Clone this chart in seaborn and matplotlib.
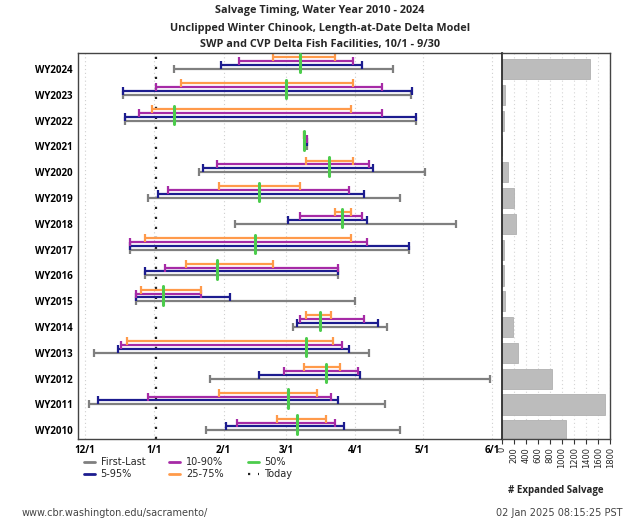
import matplotlib
matplotlib.use("Agg")
import matplotlib.pyplot as plt
from matplotlib.lines import Line2D
import seaborn as sns
import pandas as pd

# ---- data (dates as days after Dec 1 of the water year) ----
years = ["WY2024", "WY2023", "WY2022", "WY2021", "WY2020", "WY2019", "WY2018", "WY2017",
         "WY2016", "WY2015", "WY2014", "WY2013", "WY2012", "WY2011", "WY2010"]
first = [40, 17, 18, 98.6, 51, 28, 67, 20, 27, 23, 93, 4, 56, 2, 54]
last = [138, 146, 148, 99.1, 152, 141, 166, 145, 113, 121, 135, 127, 181, 134, 141]
p05 = [61, 17, 18, 98.6, 53, 32.5, 91, 20, 27, 23, 95, 15, 78, 6, 63]
p95 = [124, 146.4, 148, 99.1, 129, 125, 126, 145, 113, 65, 131, 118, 123, 113, 116]
p10 = [69, 32, 24, 98.6, 59, 37, 96, 20, 36, 23, 96, 16, 89, 28, 68]
p90 = [120, 133, 133, 99.1, 127, 118, 124, 126, 113, 52, 125, 115, 122, 110, 112]
p25 = [84, 43, 30, 98.1, 99, 60, 112, 27, 45, 25, 99, 19, 98, 60, 86]
p75 = [112, 120, 119, 98.1, 120, 96, 119, 119, 84, 52, 110, 111, 114, 104, 108]
p50 = [96, 90, 40, 98.1, 109, 78, 115, 76, 59, 35, 105, 99, 108, 91, 95]
salvage = [1470, 60, 38, 0, 104, 204, 232, 38, 33, 50, 187, 265, 839, 1707, 1061]
today = 32  # Jan 2
month_ticks = [0, 31, 62, 90, 121, 151, 182]
month_labels = ["12/1", "1/1", "2/1", "3/1", "4/1", "5/1", "6/1"]
salvage_ticks = [0, 200, 400, 600, 800, 1000, 1200, 1400, 1600, 1800]

sns.set_theme(style="white")
plt.rcParams["font.family"] = ["DejaVu Sans"]

C_GRAY = "#7f7f7f"
C_BLUE = "#1c1c8f"
C_PURP = "#a62aa6"
C_ORNG = "#ff9a4a"
C_GREEN = "#4ccc4c"

fig = plt.figure(figsize=(6.4, 5.3), dpi=100)
ax = fig.add_axes([78 / 640, 1 - 439.3 / 530, (501.7 - 78) / 640, (439.3 - 53) / 530])
axb = fig.add_axes([501.7 / 640, 1 - 439.3 / 530, (610.3 - 501.7) / 640, (439.3 - 53) / 530])

ylim = (len(years) - 1 + 0.35, -0.62)

# grid
for t in month_ticks:
    ax.axvline(t, color="#cfcfcf", lw=0.8, ls=(0, (1, 2.5)), zorder=0)
ax.axvline(today, color="#222222", lw=1.6, ls=(0, (1, 3.5)), zorder=1)

ranges = [(first, last, C_GRAY, 0.0), (p05, p95, C_BLUE, -0.155),
          (p10, p90, C_PURP, -0.30), (p25, p75, C_ORNG, -0.45)]
for i, yr in enumerate(years):
    for lo, hi, col, off in ranges:
        y = i + off
        ax.plot([lo[i], hi[i]], [y, y], color=col, lw=1.6, solid_capstyle="butt", zorder=2)
        ax.plot([lo[i], hi[i]], [y, y], ls="none", marker="|", markersize=5.5,
                mew=1.6, color=col, zorder=2)
    ax.plot([p50[i], p50[i]], [i + 0.13, i - 0.58], color=C_GREEN, lw=2.2, zorder=3)

ax.set_xlim(-3.1, 186.4)
ax.set_ylim(*ylim)
ax.set_xticks(month_ticks)
ax.set_xticklabels(month_labels, fontfamily="Open Sans", fontweight="bold", fontsize=7)
ax.set_yticks(range(len(years)))
ax.set_yticklabels(years, fontfamily="Open Sans", fontweight="bold", fontsize=7)
ax.tick_params(axis="both", direction="in", length=3.5, width=0.8, color="#333333",
               pad=4, labelcolor="black")
ax.tick_params(axis="x", pad=4)
for s in ax.spines.values():
    s.set_color("#444444")
    s.set_linewidth(1.0)

# salvage bars
df = pd.DataFrame({"year": years, "salvage": salvage})
sns.barplot(data=df, x="salvage", y="year", orient="h", color="#bcbcbc",
            saturation=1, width=0.78, edgecolor="#b0b0b0", linewidth=0.6, ax=axb, zorder=2)
for t in salvage_ticks:
    axb.axvline(t, color="#d5d5d5", lw=0.8, ls=(0, (1, 2.5)), zorder=0)
axb.set_xlim(0, 1800)
axb.set_ylim(*ylim)
axb.set_yticks([])
axb.set_ylabel("")
axb.set_xlabel("")
axb.set_xticks(salvage_ticks)
axb.set_xticklabels([str(t) for t in salvage_ticks], rotation=90, fontsize=6)
axb.tick_params(axis="x", direction="out", length=3.5, width=0.8, color="#333333", pad=2,
                bottom=True)
for s in axb.spines.values():
    s.set_color("#444444")
    s.set_linewidth(1.0)
axb.spines["left"].set_color("#222222")
axb.spines["left"].set_linewidth(1.2)
fig.text(556 / 640, 1 - 491 / 530, "# Expanded Salvage", ha="center", va="center",
         fontfamily="Open Sans", fontweight="bold", fontsize=7)

# titles
titles = ["Salvage Timing, Water Year 2010 - 2024",
          "Unclipped Winter Chinook, Length-at-Date Delta Model",
          "SWP and CVP Delta Fish Facilities, 10/1 - 9/30"]
for t, yy in zip(titles, [11, 28, 44]):
    fig.text(0.5, 1 - yy / 530, t, ha="center", va="center", fontfamily="Open Sans",
             fontweight="bold", fontsize=7.8)

# legend
handles = [Line2D([], [], color=C_GRAY, lw=2), Line2D([], [], color=C_BLUE, lw=2),
           Line2D([], [], color=C_PURP, lw=2), Line2D([], [], color=C_ORNG, lw=2),
           Line2D([], [], color=C_GREEN, lw=2),
           Line2D([], [], color="#222222", lw=1.6, ls=(0, (1, 3.5)))]
labels = ["First-Last", "5-95%", "10-90%", "25-75%", "50%", "Today"]
fig.legend(handles, labels, ncol=3, loc="upper left", bbox_to_anchor=(84 / 640, 1 - 457 / 530),
           frameon=False, fontsize=7, handlelength=1.1, handletextpad=0.6,
           columnspacing=2.5, labelspacing=0.2, borderaxespad=0, borderpad=0)

# footer
fig.text(22 / 640, 1 - 513 / 530, "www.cbr.washington.edu/sacramento/", ha="left",
         va="center", fontsize=7, color="#444444")
fig.text(622 / 640, 1 - 513 / 530, "02 Jan 2025 08:15:25 PST", ha="right",
         va="center", fontsize=7, color="#444444")

fig.savefig("out.png", dpi=100)
